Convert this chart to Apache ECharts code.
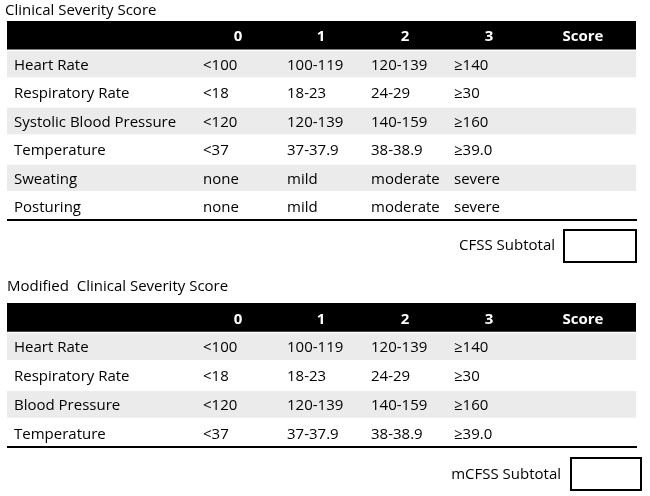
<!DOCTYPE html>
<html><head><meta charset="utf-8">
<script src="https://cdn.jsdelivr.net/npm/echarts@6/dist/echarts.min.js"></script>
<style>html,body{margin:0;padding:0;background:#fff}#c{width:650px;height:496px}</style>
</head><body><div id="c"></div>
<script>
// ---- data ----
const title1 = 'Clinical Severity Score';
const title2 = 'Modified  Clinical Severity Score';
const colHeaders = ['0', '1', '2', '3', 'Score'];
const rowNames1 = ['Heart Rate', 'Respiratory Rate', 'Systolic Blood Pressure', 'Temperature', 'Sweating', 'Posturing'];
const cells1 = [
  ['<100', '100-119', '120-139', '≥140'],
  ['<18', '18-23', '24-29', '≥30'],
  ['<120', '120-139', '140-159', '≥160'],
  ['<37', '37-37.9', '38-38.9', '≥39.0'],
  ['none', 'mild', 'moderate', 'severe'],
  ['none', 'mild', 'moderate', 'severe']
];
const rowNames2 = ['Heart Rate', 'Respiratory Rate', 'Blood Pressure', 'Temperature'];
const cells2 = [
  ['<100', '100-119', '120-139', '≥140'],
  ['<18', '18-23', '24-29', '≥30'],
  ['<120', '120-139', '140-159', '≥160'],
  ['<37', '37-37.9', '38-38.9', '≥39.0']
];
const subtotal1 = 'CFSS Subtotal';
const subtotal2 = 'mCFSS Subtotal';

// ---- layout ----
const FONT = '"Open Sans"';
const FS = 15;
const labelOff = 7;                       // offset of row label from grid left
const cellOffs = [196, 280, 364, 447];    // left offsets of value columns
const headOffs = [231, 314, 398, 482, 576]; // centre offsets of header texts

function makeRender(rowNames, cells) {
  const n = rowNames.length;
  return function (params, api) {
    const i = api.value(1);
    const cs = params.coordSys;
    const c = api.coord([0, i]);
    const h = api.size([0, 1])[1];
    const top = c[1] - h / 2;
    const cy = c[1] + 2;
    const children = [];
    if (i === 0) {
      children.push({type: 'rect', shape: {x: cs.x, y: top, width: cs.width, height: h}, style: {fill: '#000'}});
      colHeaders.forEach((t, k) => children.push({
        type: 'text', x: cs.x + headOffs[k], y: cy,
        style: {text: t, fill: '#fff', font: 'bold ' + FS + 'px ' + FONT, textAlign: 'center', textVerticalAlign: 'middle'}
      }));
    } else {
      const r = i - 1;
      if (r % 2 === 0) {
        children.push({type: 'rect', shape: {x: cs.x, y: top + 1.5, width: cs.width, height: h - 2}, style: {fill: '#ebebeb'}});
      }
      children.push({type: 'text', x: cs.x + labelOff, y: cy,
        style: {text: rowNames[r], fill: '#000', font: FS + 'px ' + FONT, textAlign: 'left', textVerticalAlign: 'middle'}});
      cells[r].forEach((t, k) => children.push({
        type: 'text', x: cs.x + cellOffs[k], y: cy,
        style: {text: t, fill: '#000', font: FS + 'px ' + FONT, textAlign: 'left', textVerticalAlign: 'middle'}
      }));
      if (r === n - 1) {
        children.push({type: 'line', shape: {x1: cs.x, y1: top + h, x2: cs.x + cs.width + 1, y2: top + h}, style: {stroke: '#000', lineWidth: 2}});
      }
    }
    return {type: 'group', children: children};
  };
}

const cats1 = ['header'].concat(rowNames1);
const cats2 = ['header'].concat(rowNames2);

const option = {
  animation: false,
  backgroundColor: '#fff',
  grid: [
    {left: 7, width: 629, top: 21, height: 199},
    {left: 7, width: 629, top: 303, height: 144}
  ],
  xAxis: [
    {gridIndex: 0, type: 'value', min: 0, max: 1, show: false},
    {gridIndex: 1, type: 'value', min: 0, max: 1, show: false}
  ],
  yAxis: [
    {gridIndex: 0, type: 'category', data: cats1, inverse: true, show: false},
    {gridIndex: 1, type: 'category', data: cats2, inverse: true, show: false}
  ],
  series: [
    {type: 'custom', xAxisIndex: 0, yAxisIndex: 0, renderItem: makeRender(rowNames1, cells1),
      data: cats1.map((_, i) => [0, i]), encode: {x: 0, y: 1}},
    {type: 'custom', xAxisIndex: 1, yAxisIndex: 1, renderItem: makeRender(rowNames2, cells2),
      data: cats2.map((_, i) => [0, i]), encode: {x: 0, y: 1}}
  ],
  graphic: [
    {type: 'text', x: 5, y: 11, style: {text: title1, fill: '#000', font: FS + 'px ' + FONT, textVerticalAlign: 'middle'}},
    {type: 'text', x: 7, y: 287, style: {text: title2, fill: '#000', font: FS + 'px ' + FONT, textVerticalAlign: 'middle'}},
    {type: 'text', x: 555, y: 246, style: {text: subtotal1, fill: '#000', font: FS + 'px ' + FONT, textAlign: 'right', textVerticalAlign: 'middle'}},
    {type: 'rect', shape: {x: 564, y: 230, width: 72, height: 32}, style: {fill: '#fff', stroke: '#000', lineWidth: 2}},
    {type: 'text', x: 561, y: 475, style: {text: subtotal2, fill: '#000', font: FS + 'px ' + FONT, textAlign: 'right', textVerticalAlign: 'middle'}},
    {type: 'rect', shape: {x: 571, y: 458, width: 70, height: 32}, style: {fill: '#fff', stroke: '#000', lineWidth: 2}}
  ]
};
const chart = echarts.init(document.getElementById('c'), null, {renderer: 'canvas'});
chart.setOption(option);
</script></body></html>
